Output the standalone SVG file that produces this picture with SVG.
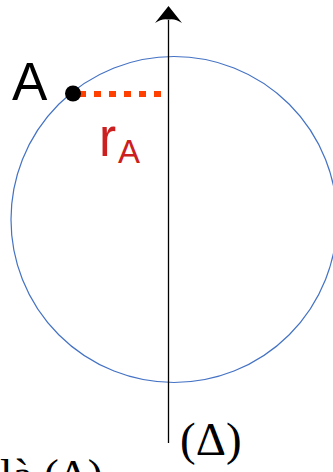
<svg xmlns="http://www.w3.org/2000/svg" width="333" height="472" viewBox="0 0 333 472">
<style>
.sans{font-family:"Liberation Sans",Arial,sans-serif}
.serif{font-family:"Liberation Serif","Times New Roman",serif}
.red{fill:#CC2020}
</style>
<rect width="333" height="472" fill="#ffffff"/>
<g id="circle">
<circle cx="174" cy="219.5" r="163" fill="none" stroke="#4472C4" stroke-width="1.2"/>
</g>
<g id="connectors">
<line x1="168.5" y1="20" x2="168.5" y2="443" stroke="#000" stroke-width="1.3"/>
<path d="M168.5 6 L182 23 Q175 18 168.5 19.5 Q162 18 155 23 Z" fill="#000"/>
<line x1="79" y1="94" x2="162" y2="94" stroke="#FF4000" stroke-width="6" stroke-dasharray="7 8"/>
</g>
<g id="pointA">
<circle cx="73" cy="93.5" r="8" fill="#000"/>
<text x="12" y="100" class="sans" font-size="53" fill="#000">A</text>
</g>
<g id="rA">
<text x="99" y="156" class="sans red" font-size="56" transform="translate(99 0) scale(0.92 1) translate(-99 0)">r</text>
<text x="118" y="163" class="sans red" font-size="33">A</text>
</g>
<g id="axisLabel">
<text x="180" y="455" class="serif" font-size="47" fill="#000">(Δ)</text>
</g>
<g id="cutText">
<text x="0" y="490" class="serif" font-size="45" fill="#000">là (Δ)</text>
</g>
</svg>
